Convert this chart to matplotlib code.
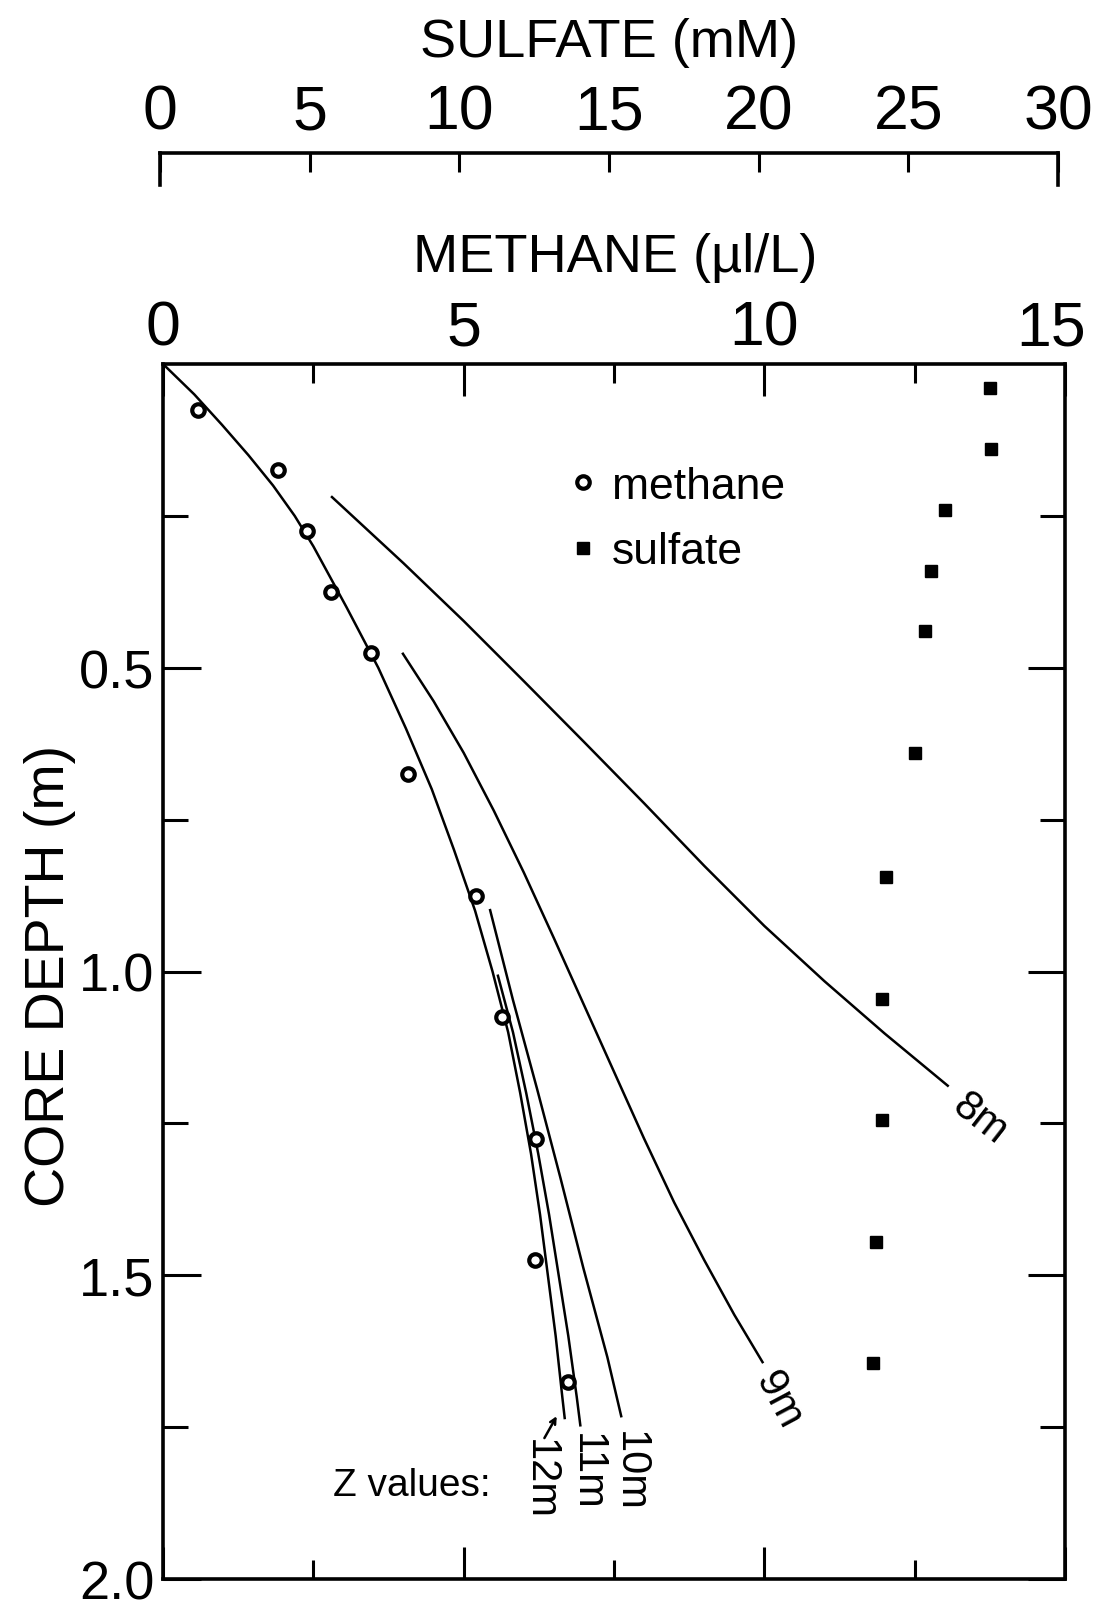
import matplotlib
matplotlib.use("Agg")
import matplotlib.pyplot as plt
from matplotlib import font_manager
from matplotlib.transforms import ScaledTranslation

# --- data ---
# methane measurements (ul/L) vs core depth (m)
ch4_depth = [0.075, 0.175, 0.275, 0.375, 0.475, 0.675, 0.875, 1.075, 1.275, 1.475, 1.675]
ch4_conc = [0.58, 1.92, 2.39, 2.80, 3.46, 4.08, 5.20, 5.64, 6.20, 6.19, 6.73]

# sulfate measurements (mM) vs core depth (m)
so4_depth = [0.04, 0.14, 0.24, 0.34, 0.44, 0.64, 0.845, 1.045, 1.245, 1.445, 1.645]
so4_conc = [27.5, 27.55, 26.0, 25.55, 25.35, 25.0, 24.05, 23.9, 23.9, 23.7, 23.6]

# model curves for different Z values (methane, depth)
z8_x = [2.81, 4.0, 5.0, 6.0, 7.0, 8.0, 9.0, 10.0, 11.0, 12.0, 13.05]
z8_d = [0.219, 0.328, 0.423, 0.522, 0.622, 0.723, 0.826, 0.925, 1.016, 1.102, 1.188]

z9_x = [3.99, 4.5, 5.0, 5.5, 6.0, 6.5, 7.0, 7.5, 8.0, 8.5, 9.0, 9.5, 9.97]
z9_d = [0.477, 0.555, 0.640, 0.735, 0.837, 0.945, 1.055, 1.165, 1.275, 1.380, 1.475, 1.565, 1.643]

z10_x = [5.44, 5.82, 6.22, 6.61, 6.99, 7.39, 7.62]
z10_d = [0.899, 1.047, 1.193, 1.340, 1.488, 1.635, 1.732]

z11_x = [5.57, 5.82, 6.04, 6.24, 6.42, 6.58, 6.74, 6.88, 6.94]
z11_d = [1.007, 1.10, 1.20, 1.30, 1.40, 1.50, 1.60, 1.70, 1.747]

z12_x = [0.0, 0.52, 0.98, 1.42, 1.83, 2.19, 2.50, 3.05, 3.58, 4.04, 4.47, 4.84, 5.19,
         5.48, 5.74, 5.94, 6.12, 6.27, 6.40, 6.53, 6.64, 6.68]
z12_d = [0.0, 0.05, 0.10, 0.15, 0.20, 0.25, 0.30, 0.40, 0.50, 0.60, 0.70, 0.80, 0.90,
         1.00, 1.10, 1.20, 1.30, 1.40, 1.50, 1.60, 1.70, 1.735]

methane_ticks = [0, 5, 10, 15]
methane_minor = [2.5, 7.5, 12.5]
sulfate_ticks = [0, 5, 10, 15, 20, 25, 30]
depth_ticks = [0.5, 1.0, 1.5, 2.0]
depth_labels = ["0.5", "1.0", "1.5", "2.0"]
depth_minor = [0.25, 0.75, 1.25, 1.75]

# --- fonts ---
names = {f.name for f in font_manager.fontManager.ttflist}
base = "Liberation Sans" if "Liberation Sans" in names else "DejaVu Sans"
plt.rcParams["font.family"] = [base, "DejaVu Sans"]

W, H = 1095, 1608
fig = plt.figure(figsize=(W / 100, H / 100), dpi=100)

ax = fig.add_axes([163 / W, 1 - 1580 / H, (1065 - 163) / W, (1580 - 365) / H])
ax.set_xlim(0, 15)
ax.set_ylim(2.0, 0)

for s in ax.spines.values():
    s.set_linewidth(2.6)

lw = 1.8
ax.plot(z8_x, z8_d, color="black", lw=lw)
ax.plot(z9_x, z9_d, color="black", lw=lw)
ax.plot(z10_x, z10_d, color="black", lw=lw)
ax.plot(z11_x, z11_d, color="black", lw=lw)
ax.plot(z12_x, z12_d, color="black", lw=lw)

h1, = ax.plot(ch4_conc, ch4_depth, ls="none", marker="o", ms=9, mfc="white",
              mec="black", mew=3.0, label="methane", zorder=5)

# sulfate shares the box, on a 0-30 scale
sx = ax.twiny()
sx.set_xlim(0, 30)
sx.axis("off")
h2, = sx.plot(so4_conc, so4_depth, ls="none", marker="s", ms=8.5, mfc="black",
              mec="black", label="sulfate", zorder=5)

ax.set_xticks(methane_ticks)
ax.set_xticklabels([str(v) for v in methane_ticks])
ax.set_xticks(methane_minor, minor=True)
ax.set_yticks(depth_ticks)
ax.set_yticklabels(depth_labels)
ax.set_yticks(depth_minor, minor=True)

ax.tick_params(axis="x", which="both", direction="in", top=True, bottom=True,
               labeltop=True, labelbottom=False, width=2.2, pad=5, labelsize=45)
ax.tick_params(axis="x", which="major", length=23)
ax.tick_params(axis="x", which="minor", length=14)
ax.tick_params(axis="y", which="both", direction="in", left=True, right=True,
               labelleft=True, labelright=False, width=2.2, pad=6, labelsize=39)
ax.tick_params(axis="y", which="major", length=27)
ax.tick_params(axis="y", which="minor", length=18)

# last methane label sits against the right edge, nudge it in a little
last = ax.xaxis.get_majorticklabels()[-1]
last.set_transform(last.get_transform() + ScaledTranslation(-14 / 100, 0, fig.dpi_scale_trans))

tsize = 39
ax.xaxis.set_label_position("top")
ax.set_xlabel("METHANE (\u00b5l/L)", fontsize=tsize, va="center")
ax.xaxis.set_label_coords(0.501, 1.088)
ax.set_ylabel("CORE DEPTH (m)", fontsize=40, va="center")
ax.yaxis.set_label_coords(-0.125, 0.497)

# separate sulfate scale above
sa = fig.add_axes([160 / W, 1 - 186 / H, (1058 - 160) / W, 32 / H])
sa.set_xlim(0, 30)
sa.patch.set_visible(False)
sa.spines["bottom"].set_visible(False)
for k in ["top", "left", "right"]:
    sa.spines[k].set_linewidth(2.6)
sa.set_yticks([])
sa.set_xticks(sulfate_ticks)
sa.set_xticklabels([str(v) for v in sulfate_ticks])
sa.tick_params(axis="x", direction="in", top=True, bottom=False, labeltop=True,
               labelbottom=False, length=14, width=2.2, pad=8, labelsize=45)
sa.xaxis.set_label_position("top")
sa.set_xlabel("SULFATE (mM)", fontsize=tsize, va="center")
sa.xaxis.set_label_coords(0.5, 4.47)

leg = ax.legend(handles=[h1, h2], loc="center left", bbox_to_anchor=(6.47, 0.255),
                bbox_transform=ax.transData, frameon=False, fontsize=32,
                handlelength=0.6, handletextpad=0.35, labelspacing=0.55,
                borderaxespad=0, borderpad=0.4)

ts = 30
ax.text(13.59, 1.241, "8m", rotation=-38, ha="center", va="center", fontsize=ts)
ax.text(10.23, 1.704, "9m", rotation=-62, ha="center", va="center", fontsize=ts)
ax.text(7.77, 1.822, "10m", rotation=-90, ha="center", va="center", fontsize=ts)
ax.text(7.05, 1.822, "11m", rotation=-90, ha="center", va="center", fontsize=ts)
ax.text(6.27, 1.835, "12m", rotation=-90, ha="center", va="center", fontsize=ts)
ax.text(4.14, 1.845, "Z values:", ha="center", va="center", fontsize=28)
ax.annotate("", xy=(6.57, 1.728), xytext=(6.32, 1.772),
            arrowprops=dict(arrowstyle="->", lw=1.8, color="black"))

fig.savefig("out.png", dpi=100)
